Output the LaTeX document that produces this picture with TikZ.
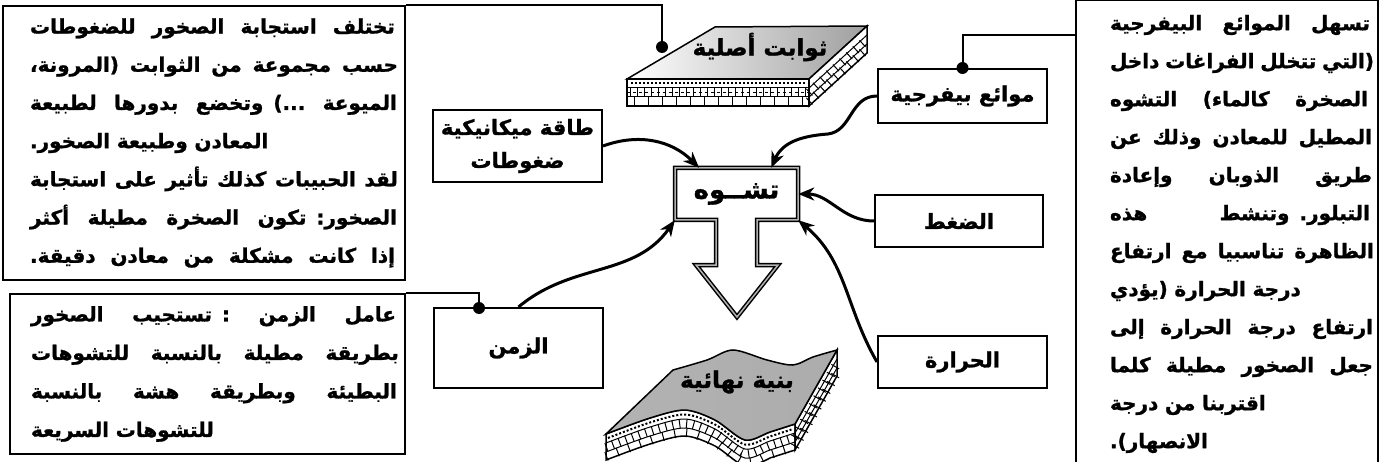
\documentclass[tikz,border=0pt]{standalone}
\usepackage{fontspec}
\usepackage{tikz}
\usetikzlibrary{arrows.meta}
\newfontfamily\arabicfont[Script=Arabic, BoldFeatures={FakeBold=1.2}]{DejaVu Sans}
\TeXXeTstate=1
\newcommand{\rtl}[1]{\beginR #1\endR}
\newcommand{\fitline}[2]{\hbox to \hsize{\hbox to #1{\spaceskip=0.35em plus 2em minus 0.15em #2}\hss}}
\newcommand{\natline}[1]{\hbox to \hsize{\hbox{#1}\hss}}

\tikzset{
  box/.style={draw, line width=2pt, inner sep=0pt, align=center,
    font=\arabicfont\bfseries\fontsize{21}{33}\selectfont},
  txtbox/.style={draw, line width=2pt, inner sep=0pt, align=left,
    font=\arabicfont\bfseries\fontsize{20}{38.2}\selectfont},
  lbl/.style={inner sep=0pt, font=\arabicfont\bfseries\fontsize{23}{26}\selectfont},
  arr/.style={->, line width=3pt},
  link/.style={line width=2pt},
  bricks/.style={line width=9pt, dash pattern=on 1pt off 6pt},
}

\begin{document}
\begin{tikzpicture}[x=1pt, y=1pt, >={Stealth[length=16pt,width=13pt,inset=5pt]}]
  \useasboundingbox (0,0) rectangle (1383,461);

  % original slab
  \draw[line width=1.5pt, left color=white, right color=gray!75]
    (627,382) -- (715,434) -- (867,435) -- (809,382) -- cycle;
  \draw[line width=1.5pt, fill=white] (627,355) rectangle (809,382);
  \draw[line width=1.5pt, fill=white] (809,382) -- (867,435) -- (867,408) -- (809,355) -- cycle;
  \draw[line width=1pt] (627,373) -- (809,373) (627,364) -- (809,364);
  \draw[line width=2pt, dotted] (631,377.5) -- (806,377.5);
  \draw[line width=1pt, dashed] (627,368.5) -- (809,368.5);
  \draw[bricks] (630,368.5) -- (809,368.5);
  \draw[bricks, dash pattern=on 1pt off 13pt] (634,359.5) -- (809,359.5);
  \draw[line width=1pt] (809,373) -- (867,426) (809,364) -- (867,417);
  \draw[bricks, dash pattern=on 1pt off 8pt] (809,359.5) -- (867,412.5);
  \draw[bricks, dash pattern=on 1pt off 8pt] (809,368.5) -- (867,421.5);
  \node[lbl] (orig) at (760,414) {\rtl{ثوابت أصلية}};

  % final slab
  \draw[line width=1.5pt, fill=white]
    plot[smooth] coordinates {(606,27) (650,43) (685,51) (715,41) (745,21) (770,29) (795,37)}
    -- (795,11)
    -- plot[smooth] coordinates {(770,3) (745,-5) (715,15) (685,25) (650,17) (606,1)} -- cycle;
  \draw[line width=1pt] plot[smooth] coordinates {(606,18) (650,34) (685,42) (715,32) (745,12) (770,20) (795,28)};
  \draw[line width=1pt] plot[smooth] coordinates {(606,9) (650,25) (685,33) (715,23) (745,3) (770,11) (795,19)};
  \draw[line width=2pt, dotted] plot[smooth] coordinates {(608,23) (650,38.5) (685,46.5) (715,36.5) (745,16.5) (770,24.5) (793,32)};
  \draw[bricks] plot[smooth] coordinates {(606,13.5) (650,29.5) (685,37.5) (715,27.5) (745,7.5) (770,15.5) (795,23.5)};
  \draw[bricks, dash pattern=on 1pt off 11pt] plot[smooth] coordinates {(606,4.5) (650,20.5) (685,28.5) (715,18.5) (745,-1.5) (770,6.5) (795,14.5)};
  \draw[line width=1.5pt, fill=white] (795,37) -- (837,111) -- (837,85) -- (795,11) -- cycle;
  \draw[line width=1pt] (795,28) -- (837,102) (795,19) -- (837,93);
  \draw[bricks, dash pattern=on 1pt off 8pt] (795,23.5) -- (837,97.5);
  \draw[bricks, dash pattern=on 1pt off 8pt] (795,14.5) -- (837,88.5);
  \draw[line width=1.5pt, left color=gray!60, middle color=white!92!gray, right color=gray!65]
    plot[smooth] coordinates {(606,27) (650,43) (685,51) (715,41) (745,21) (770,29) (795,37)}
    -- plot[smooth] coordinates {(837,111) (813,104) (793,96) (767,101) (733,111) (707,101) (673,91)} -- cycle;
  \node[lbl] (final) at (737,79) {\rtl{بنية نهائية}};

  % deformation
  \draw[line width=1.5pt, double=gray!60, double distance=1.5pt]
    (675,293) -- (798,293) -- (798,241) -- (757,241) -- (757,196) -- (778,196)
    -- (737,144) -- (696,196) -- (716,196) -- (716,241) -- (675,241) -- cycle;
  \node[lbl, font=\arabicfont\bfseries\fontsize{26}{28}\selectfont,
    minimum width=123pt, minimum height=52pt] (def) at (736.5,267) {\rtl{تشــوه}};

  % factors
  \node[box, minimum width=169pt, minimum height=72pt] (meca) at (517.5,315)
    {\rtl{طاقة ميكانيكية}\\\rtl{ضغوطات}};
  \node[box, minimum width=169pt, minimum height=54pt] (flu) at (962.5,365) {\rtl{موائع بيفرجية}};
  \node[box, minimum width=168pt, minimum height=52pt] (pre) at (959,240) {\rtl{الضغط}};
  \node[box, minimum width=169pt, minimum height=52pt] (temp) at (962.5,99) {\rtl{الحرارة}};
  \node[box, minimum width=169pt, minimum height=80pt] (time) at (518.5,113) {\rtl{الزمن}};

  % notes
  \node[txtbox, minimum width=402pt, minimum height=273pt, text width=348pt] (txtA) at (204,318)
    {\fitline{365pt}{\beginR تختلف استجابة الصخور للضغوطات\endR}
     \fitline{368pt}{\beginR حسب مجموعة من الثوابت (المرونة،\endR}
     \fitline{367pt}{\beginR الميوعة ...) وتخضع بدورها لطبيعة\endR}
     \natline{\beginR المعادن وطبيعة الصخور.\endR}
     \fitline{368pt}{\beginR لقد الحبيبات كذلك تأثير على استجابة\endR}
     \fitline{367pt}{\beginR الصخور: تكون الصخرة مطيلة أكثر\endR}
     \fitline{365pt}{\beginR إذا كانت مشكلة من معادن دقيقة.\endR}};
  \node[txtbox, minimum width=395pt, minimum height=160pt, text width=353pt,
    font=\arabicfont\bfseries\fontsize{20}{38.5}\selectfont] (txtB) at (207.5,87)
    {\fitline{365pt}{\beginR عامل الزمن : تستجيب الصخور\endR}
     \fitline{368pt}{\beginR بطريقة مطيلة بالنسبة للتشوهات\endR}
     \fitline{366pt}{\beginR البطيئة وبطريقة هشة بالنسبة\endR}
     \natline{\beginR للتشوهات السريعة\endR}};
  \node[txtbox, minimum width=302pt, minimum height=467pt, text width=234pt,
    font=\arabicfont\bfseries\fontsize{20}{38}\selectfont] (txtC) at (1227,227)
    {\fitline{260pt}{\beginR تسهل الموائع البيفرجية\endR}
     \fitline{264pt}{\beginR (التي تتخلل الفراغات داخل\endR}
     \fitline{258pt}{\beginR الصخرة كالماء) التشوه\endR}
     \fitline{262pt}{\beginR المطيل للمعادن وذلك عن\endR}
     \fitline{262pt}{\beginR طريق الذوبان وإعادة\endR}
     \fitline{260pt}{\beginR التبلور. وتنشط هذه\endR}
     \fitline{264pt}{\beginR الظاهرة تناسبيا مع ارتفاع\endR}
     \natline{\beginR درجة الحرارة (يؤدي\endR}
     \fitline{263pt}{\beginR ارتفاع درجة الحرارة إلى\endR}
     \fitline{263pt}{\beginR جعل الصخور مطيلة كلما\endR}
     \natline{\beginR اقتربنا من درجة\endR}
     \natline{\beginR الانصهار).\endR}};

  % links with dots
  \coordinate (dotA) at (662,414);
  \coordinate (jF) at (1076,426);
  \coordinate (dotT) at (479,153);
  \draw[link] (txtA.north east) -| (dotA);
  \fill (dotA) circle (6);
  \draw[link] (jF) -| (flu.north);
  \fill (flu.north) circle (6);
  \draw[link] (txtB.north east) -| (dotT);
  \fill (dotT) circle (6);

  % arrows into deformation
  \draw[arr] (meca.east) to[out=20, in=135] (def.145);
  \draw[arr] (flu.west) .. controls (850,365) and (852,330) .. (828,327)
    .. controls (800,325) and (782,318) .. (def.37);
  \draw[arr] (pre.west) to[out=180, in=0] (def.east);
  \draw[arr] (temp.west) to[out=120, in=-40] (def.south east);
  \draw[arr] (time.north) to[out=40, in=235] (def.south west);
\end{tikzpicture}
\end{document}
